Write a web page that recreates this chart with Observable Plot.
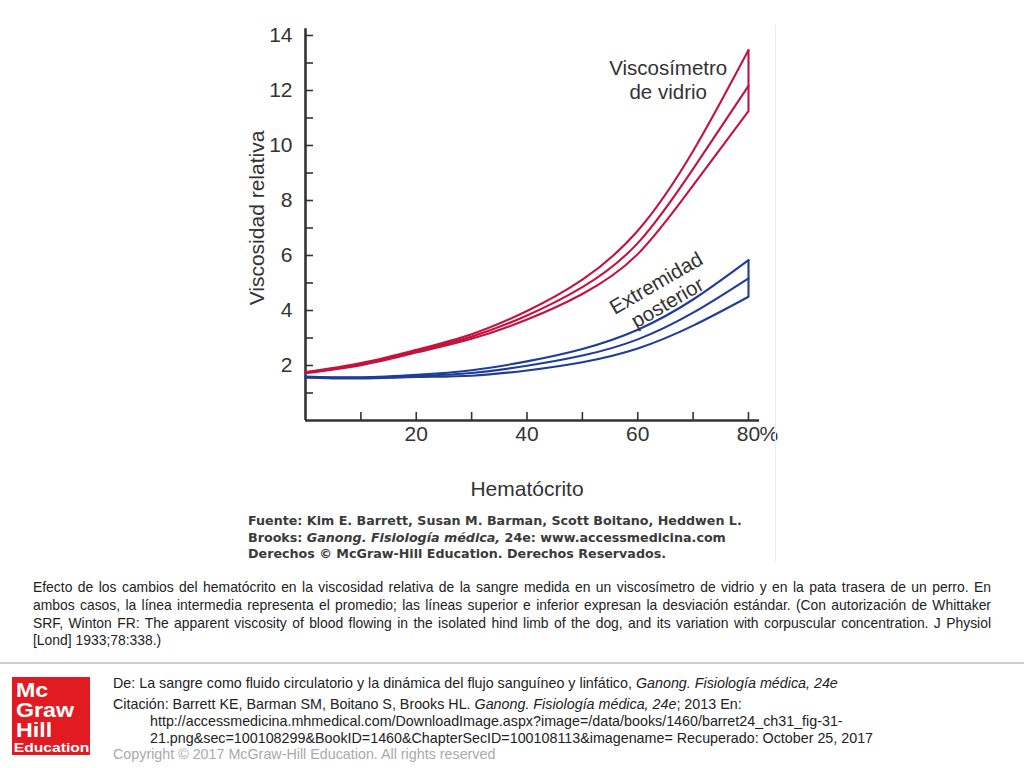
<!DOCTYPE html>
<html>
<head>
<meta charset="utf-8">
<script src="https://cdn.jsdelivr.net/npm/d3@7"></script>
<script src="https://cdn.jsdelivr.net/npm/@observablehq/plot@0.6"></script>
<style>
  html, body { margin: 0; padding: 0; background: #fff; }
  body { width: 1024px; height: 768px; position: relative; overflow: hidden; font-family: "Liberation Sans", Arial, sans-serif; }
  #chart { position: absolute; left: 0; top: 0; }
  .border { position: absolute; left: 775px; top: 25px; width: 1px; height: 537px; background: #ececec; }
  .source { position: absolute; left: 248px; top: 513px; font-family: "DejaVu Sans", Verdana, sans-serif; font-weight: bold; font-size: 12.7px; line-height: 16.6px; color: #3a3a3a; white-space: nowrap; }
  .caption { position: absolute; left: 33px; top: 579px; width: 958px; font-size: 13.9px; line-height: 17.8px; color: #222; }
  .caption .j { text-align: justify; text-align-last: justify; white-space: nowrap; }
  .rule { position: absolute; left: 0; top: 662px; width: 1024px; height: 2px; background: #cfcfcf; }
  .logo { position: absolute; left: 12px; top: 677px; width: 78px; height: 78px; background: #e21b23; color: #fff; font-weight: bold; box-sizing: border-box; padding: 3px 0 0 4px; }
  .logo .txt { transform: scaleX(1.16); transform-origin: 0 0; }
  .logo .big { font-size: 20px; line-height: 20px; }
  .logo .small { font-size: 13.5px; line-height: 15px; margin-left: -2px; }
  .foot { position: absolute; left: 113px; font-size: 14.3px; line-height: 17px; color: #222; white-space: nowrap; }
  .foot.gray { color: #aaa; }
</style>
</head>
<body>
<div id="chart"></div>
<div class="border"></div>
<div class="source">Fuente: Kim E. Barrett, Susan M. Barman, Scott Boitano, Heddwen L.<br>Brooks: <i>Ganong. Fisiología médica,</i> 24e: www.accessmedicina.com<br>Derechos © McGraw-Hill Education. Derechos Reservados.</div>
<div class="caption">
  <div class="j">Efecto de los cambios del hematócrito en la viscosidad relativa de la sangre medida en un viscosímetro de vidrio y en la pata trasera de un perro. En</div>
  <div class="j">ambos casos, la línea intermedia representa el promedio; las líneas superior e inferior expresan la desviación estándar. (Con autorización de Whittaker</div>
  <div class="j">SRF, Winton FR: The apparent viscosity of blood flowing in the isolated hind limb of the dog, and its variation with corpuscular concentration. J Physiol</div>
  <div>[Lond] 1933;78:338.)</div>
</div>
<div class="rule"></div>
<div class="logo"><div class="txt"><div class="big">Mc</div><div class="big">Graw</div><div class="big">Hill</div><div class="small">Education</div></div></div>
<div class="foot" style="top:675px">De: La sangre como fluido circulatorio y la dinámica del flujo sanguíneo y linfático, <i>Ganong. Fisiología médica, 24e</i></div>
<div class="foot" style="top:696px">Citación: Barrett KE, Barman SM, Boitano S, Brooks HL. <i>Ganong. Fisiología médica, 24e</i>; 2013 En:</div>
<div class="foot" style="top:713px; left:150px">http://accessmedicina.mhmedical.com/DownloadImage.aspx?image=/data/books/1460/barret24_ch31_fig-31-</div>
<div class="foot" style="top:730px; left:150px">21.png&amp;sec=100108299&amp;BookID=1460&amp;ChapterSecID=100108113&amp;imagename= Recuperado: October 25, 2017</div>
<div class="foot gray" style="top:746px">Copyright © 2017 McGraw-Hill Education. All rights reserved</div>
<script>
// Hematocrit (%)
const hematocrit = [0, 10, 20, 30, 40, 50, 60, 70, 80];
// Glass viscometer: upper (mean + SD), mean, lower (mean - SD)
const glassUpper = [1.76, 2.09, 2.57, 3.14, 3.98, 5.12, 6.90, 9.80, 13.47];
const glassMean  = [1.74, 2.05, 2.52, 3.05, 3.82, 4.85, 6.45, 9.15, 12.17];
const glassLower = [1.72, 2.01, 2.47, 2.97, 3.67, 4.60, 6.05, 8.55, 11.25];
// Hind limb: upper, mean, lower
const limbUpper = [1.60, 1.57, 1.66, 1.83, 2.15, 2.60, 3.30, 4.40, 5.83];
const limbMean  = [1.58, 1.55, 1.62, 1.73, 1.99, 2.36, 2.95, 3.92, 5.17];
const limbLower = [1.56, 1.53, 1.58, 1.63, 1.82, 2.12, 2.62, 3.45, 4.50];

const yTickLabels = [2, 4, 6, 8, 10, 12, 14];
const yMinorTicks = [1, 2, 3, 4, 5, 6, 7, 8, 9, 10, 11, 12, 13, 14];
const xTickLabels = [20, 40, 60, 80];
const xMinorTicks = [10, 20, 30, 40, 50, 60, 70, 80];

const RED = "#c4123f";
const BLUE = "#1f3c98";
const INK = "#333";

function rows(series, arrays) {
  const out = [];
  for (const [stat, arr] of Object.entries(arrays)) {
    hematocrit.forEach((h, i) => out.push({series, stat, h, v: arr[i]}));
  }
  return out;
}
const glassRows = rows("glass", {upper: glassUpper, mean: glassMean, lower: glassLower});
const limbRows = rows("limb", {upper: limbUpper, mean: limbMean, lower: limbLower});
const last = hematocrit.length - 1;
const caps = [
  {series: "glass", h: hematocrit[last], lo: glassLower[last], hi: glassUpper[last]},
  {series: "limb", h: hematocrit[last], lo: limbLower[last], hi: limbUpper[last]}
];

const chart = Plot.plot({
  width: 1024,
  height: 510,
  marginLeft: 305,
  marginRight: 276,
  marginTop: 35,
  marginBottom: 90,
  x: {domain: [0, 80]},
  y: {domain: [0, 14]},
  style: {fontFamily: "'Liberation Sans', Arial, sans-serif", color: INK, background: "transparent", overflow: "visible"},
  marks: [
    Plot.axisY({ticks: yMinorTicks, tickSize: 8, dx: 8, tickFormat: () => "", label: null, strokeWidth: 1.6}),
    Plot.axisY({ticks: yTickLabels, tickSize: 0, tickPadding: 13, fontSize: 21, label: null}),
    Plot.axisX({ticks: xMinorTicks, tickSize: 8, dy: -8, tickFormat: () => "", label: null, strokeWidth: 1.6}),
    Plot.axisX({ticks: xTickLabels, tickSize: 0, tickPadding: 6, fontSize: 21, label: null}),
    Plot.text(["%"], {x: [80], frameAnchor: "bottom", lineAnchor: "top", dy: 6, dx: 11, textAnchor: "start", fontSize: 21, fill: INK}),
    Plot.ruleX([0], {y1: 0, y2: 14.25, stroke: INK, strokeWidth: 2.6}),
    Plot.ruleY([0], {x1: 0, x2: 82, stroke: INK, strokeWidth: 2.6}),
    Plot.line(glassRows, {x: "h", y: "v", z: "stat", stroke: RED, strokeWidth: 2.1, curve: "natural"}),
    Plot.line(limbRows, {x: "h", y: "v", z: "stat", stroke: BLUE, strokeWidth: 2.1, curve: "natural"}),
    Plot.ruleX(caps, {x: "h", y1: "lo", y2: "hi", stroke: d => d.series === "glass" ? RED : BLUE, strokeWidth: 2.1}),
    Plot.text(["Viscosímetro\nde vidrio"], {x: 65.5, y: 12.4, fontSize: 20.5, lineHeight: 1.15, fill: INK}),
    Plot.text(["Extremidad\nposterior"], {x: 64.3, y: 4.65, rotate: -30, fontSize: 20.5, lineHeight: 1.1, fill: INK}),
    Plot.text(["Viscosidad relativa"], {frameAnchor: "left", textAnchor: "middle", rotate: -90, dx: -48, dy: -10, fontSize: 21, fill: INK}),
    Plot.text(["Hematócrito"], {frameAnchor: "bottom", dy: 75, fontSize: 21, fill: INK})
  ]
});
document.getElementById("chart").appendChild(chart);
</script>
</body>
</html>
